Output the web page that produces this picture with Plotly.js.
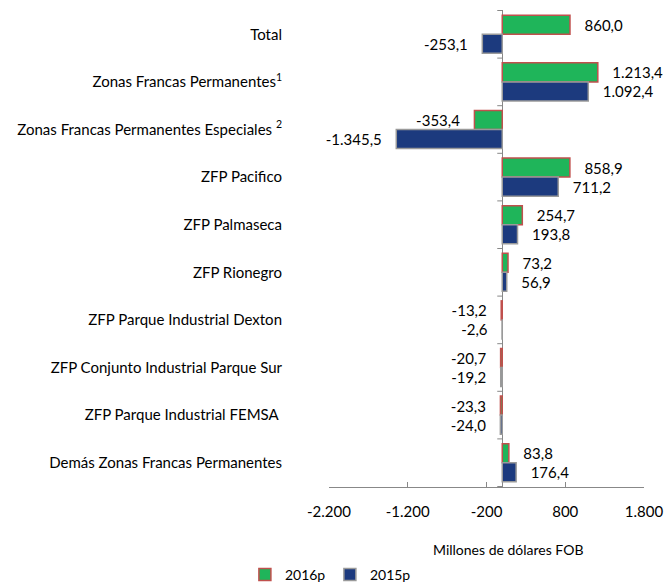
<!DOCTYPE html>
<html>
<head>
<meta charset="utf-8">
<script src="https://cdn.plot.ly/plotly-3.0.1.min.js"></script>
<style>html,body{margin:0;padding:0;background:#fff;}#chart{width:666px;height:586px;}</style>
</head>
<body>
<div id="chart"></div>
<script>
var categories = [
  "Total",
  "Zonas Francas Permanentes<sup>1</sup>",
  "Zonas Francas Permanentes Especiales <sup>2</sup>",
  "ZFP Pacifico",
  "ZFP Palmaseca",
  "ZFP Rionegro",
  "ZFP Parque Industrial Dexton",
  "ZFP Conjunto Industrial Parque Sur",
  "ZFP Parque Industrial FEMSA ",
  "Demás Zonas Francas Permanentes"
];
var values2016 = [860.0, 1213.4, -353.4, 858.9, 254.7, 73.2, -13.2, -20.7, -23.3, 83.8];
var values2015 = [-253.1, 1092.4, -1345.5, 711.2, 193.8, 56.9, -2.6, -19.2, -24.0, 176.4];
var seriesNames = ["2016p", "2015p"];
var tickValues = [-2200, -1200, -200, 800, 1800];

var NB = "\u00a0\u00a0\u00a0";
function fmt(v) {
  var s = Math.abs(v).toFixed(1).split(".");
  var intPart = s[0].replace(/\B(?=(\d{3})+(?!\d))/g, ".");
  return (v < 0 ? "-" : "") + intPart + "," + s[1];
}
function labels(vals) {
  return vals.map(function (v) { return v < 0 ? fmt(v) + NB : NB + fmt(v); });
}
function tickText(vals) {
  return vals.map(function (v) {
    var a = Math.abs(v).toString().replace(/\B(?=(\d{3})+(?!\d))/g, ".");
    return (v < 0 ? "-" : "") + a;
  });
}

var font = "Lato, 'Open Sans', sans-serif";

var traces = [
  {
    type: "bar", orientation: "h", name: seriesNames[0],
    y: categories, x: values2016,
    text: labels(values2016), textposition: "outside", cliponaxis: false,
    constraintext: "none",
    textfont: {family: font, size: 15, color: "#000"},
    marker: {color: "#1fb55a", line: {color: "#c0504d", width: 1.5}},
    hoverinfo: "x+y"
  },
  {
    type: "bar", orientation: "h", name: seriesNames[1],
    y: categories, x: values2015,
    text: labels(values2015), textposition: "outside", cliponaxis: false,
    constraintext: "none",
    textfont: {family: font, size: 15, color: "#000"},
    marker: {color: "#1c3a7e", line: {color: "#9a9a9a", width: 1.5}},
    hoverinfo: "x+y"
  }
];

var shapes = [];
for (var i = 0; i <= categories.length; i++) {
  shapes.push({
    type: "line", xref: "x", yref: "y", xsizemode: "pixel", xanchor: 0,
    x0: -5, x1: 0, y0: i - 0.5, y1: i - 0.5,
    line: {color: "#888", width: 1}
  });
}

var layout = {
  width: 666, height: 586,
  margin: {l: 329, r: 22, t: 10, b: 99, autoexpand: false},
  paper_bgcolor: "#fff", plot_bgcolor: "#fff",
  font: {family: font, size: 14, color: "#000"},
  barmode: "group", bargap: 0.2, bargroupgap: 0,
  showlegend: true,
  legend: {orientation: "h", x: -0.267, xanchor: "left", y: -0.1845, yanchor: "middle",
           font: {family: font, size: 14}, itemwidth: 30, entrywidth: 40, tracegroupgap: 0},
  xaxis: {
    range: [-2200, 1800], tickvals: tickValues, ticktext: tickText(tickValues),
    showgrid: false, zeroline: true, zerolinecolor: "#888", zerolinewidth: 1,
    showline: true, linecolor: "#888", linewidth: 1,
    ticks: "inside", ticklen: 5, tickcolor: "#888",
    ticklabelstandoff: 11,
    tickfont: {family: font, size: 15}, fixedrange: true
  },
  yaxis: {
    type: "category", autorange: "reversed",
    showgrid: false, zeroline: false, showline: false, ticks: "",
    ticklabelstandoff: 46,
    tickfont: {family: font, size: 15}, fixedrange: true
  },
  shapes: shapes,
  annotations: [{
    text: "Millones de dólares FOB", xref: "paper", yref: "paper",
    x: (508 - 329) / 315, y: -0.13, xanchor: "center", yanchor: "middle",
    showarrow: false, font: {family: font, size: 14, color: "#000"}
  }]
};

Plotly.newPlot("chart", traces, layout, {displayModeBar: false, staticPlot: true});
</script>
</body>
</html>
